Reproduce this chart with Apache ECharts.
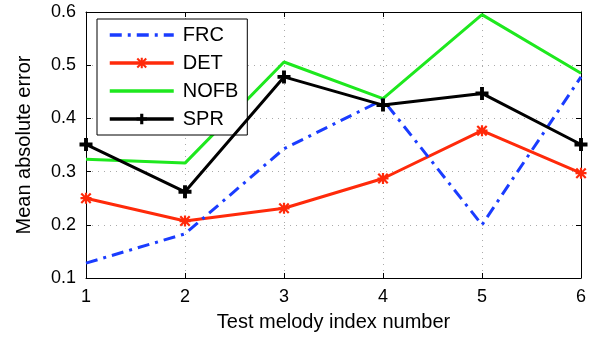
<!DOCTYPE html>
<html>
<head>
<meta charset="utf-8">
<script src="https://cdn.jsdelivr.net/npm/echarts@6/dist/echarts.min.js"></script>
<style>
  html, body { margin: 0; padding: 0; background: #fff; }
  #chart { width: 598px; height: 337px; }
</style>
</head>
<body>
<div id="chart"></div>
<script>
// test melody index (x axis)
const melodies = [1, 2, 3, 4, 5, 6];
const yTicks = [0.1, 0.2, 0.3, 0.4, 0.5, 0.6];

// mean absolute error per method
const frc = [0.128, 0.183, 0.343, 0.435, 0.200, 0.478];
const det = [0.250, 0.207, 0.231, 0.287, 0.377, 0.297];
const nofb = [0.323, 0.316, 0.506, 0.437, 0.595, 0.485];
const spr = [0.351, 0.262, 0.478, 0.425, 0.447, 0.351];

const FONT = "Liberation Sans";
const plusPath = "path://M3.5,0H6.5V3.5H10V6.5H6.5V10H3.5V6.5H0V3.5H3.5Z";
const starPath = "path://M4,0H6V4H10V6H6V10H4V6H0V4H4Z" +
  "M1.4,0L5,3.6L8.6,0L10,1.4L6.4,5L10,8.6L8.6,10L5,6.4L1.4,10L0,8.6L3.6,5L0,1.4Z";

const pairs = (vals) => melodies.map((m, i) => [m, vals[i]]);

const makeLine = (name, vals, color, opts = {}) => ({
  name: name,
  type: "line",
  data: pairs(vals),
  symbol: opts.symbol || "none",
  symbolSize: opts.symbolSize || 0,
  showSymbol: !!opts.symbol,
  lineStyle: { color: color, width: 3, type: opts.lineType || "solid", cap: "butt" },
  itemStyle: { color: color },
  z: opts.z || 2,
  animation: false,
});

const chart = echarts.init(document.getElementById("chart"), null, { renderer: "canvas" });

const axisCommon = {
  axisLine: { show: true, lineStyle: { color: "#000", width: 1 } },
  axisTick: { show: true, inside: true, length: 5, lineStyle: { color: "#000" } },
};

chart.setOption({
  animation: false,
  backgroundColor: "#fff",
  textStyle: { fontFamily: FONT },
  grid: { left: 86, right: 17, top: 12, bottom: 59 },
  legend: {
    orient: "vertical",
    left: 97,
    top: 19,
    padding: [6, 9, 6, 11],
    itemGap: 8,
    itemWidth: 64,
    itemHeight: 13,
    borderColor: "#000",
    borderWidth: 1,
    borderRadius: 0,
    backgroundColor: "#fff",
    lineStyle: { width: 3.5 },
    textStyle: { fontFamily: FONT, fontSize: 20, color: "#000", padding: [0, 0, 0, 4], lineHeight: 20 },
    data: [
      { name: "FRC", itemStyle: { opacity: 0 } },
      { name: "DET" },
      { name: "NOFB", itemStyle: { opacity: 0 } },
      { name: "SPR" },
    ],
  },
  xAxis: [
    {
      type: "value",
      min: 1,
      max: 6,
      interval: 1,
      ...axisCommon,
      axisLabel: { fontFamily: FONT, fontSize: 18, color: "#000", margin: 10 },
      splitLine: { show: true, lineStyle: { color: "#aaa", type: [1, 5], width: 1 } },
      name: "Test melody index number",
      nameLocation: "middle",
      nameGap: 34,
      nameTextStyle: { fontFamily: FONT, fontSize: 20, color: "#000" },
    },
    {
      type: "value",
      position: "top",
      min: 1,
      max: 6,
      interval: 1,
      ...axisCommon,
      axisLabel: { show: false },
      splitLine: { show: false },
    },
  ],
  yAxis: [
    {
      type: "value",
      min: yTicks[0],
      max: yTicks[yTicks.length - 1],
      interval: 0.1,
      ...axisCommon,
      axisLabel: {
        fontFamily: FONT, fontSize: 18, color: "#000", margin: 10,
        formatter: (v) => v.toFixed(1),
      },
      splitLine: { show: true, lineStyle: { color: "#aaa", type: [1, 5], width: 1 } },
      name: "Mean absolute error",
      nameLocation: "middle",
      nameGap: 52,
      nameTextStyle: { fontFamily: FONT, fontSize: 20, color: "#000" },
    },
    {
      type: "value",
      position: "right",
      min: yTicks[0],
      max: yTicks[yTicks.length - 1],
      interval: 0.1,
      ...axisCommon,
      axisLabel: { show: false },
      splitLine: { show: false },
    },
  ],
  series: [
    makeLine("FRC", frc, "#1a3cff", { lineType: [12, 6, 3, 6], z: 3 }),
    makeLine("DET", det, "#ff2a0a", { symbol: starPath, symbolSize: 11 }),
    makeLine("NOFB", nofb, "#1ee81e"),
    makeLine("SPR", spr, "#000000", { symbol: plusPath, symbolSize: 13, z: 4 }),
  ],
});
</script>
</body>
</html>
